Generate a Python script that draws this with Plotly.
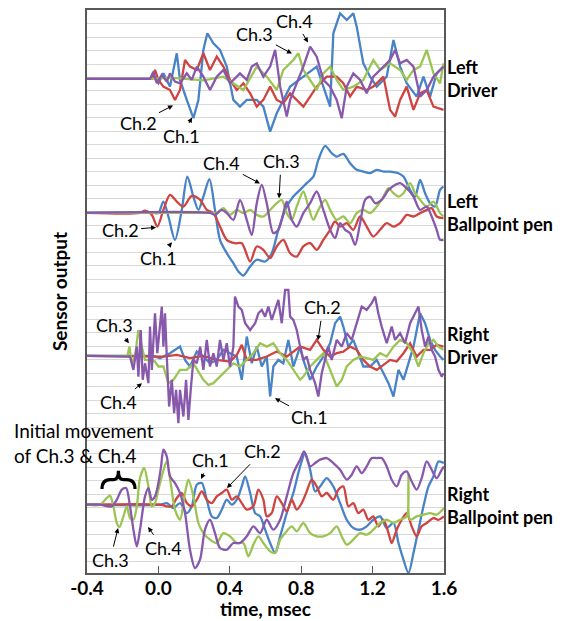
import plotly.graph_objects as go

# ---------------- data (time in msec, amplitude in grid units) ----------------
# Left Driver
LD_CH1_T = [-0.4, -0.047, -0.028, 0.0, 0.028, 0.065, 0.103, 0.121, 0.159, 0.196, 0.224, 0.252, 0.274, 0.308, 0.345, 0.383, 0.420, 0.457, 0.495, 0.551, 0.588, 0.626, 0.663, 0.700, 0.738, 0.812, 0.887, 0.924, 0.962, 0.980, 1.018, 1.055, 1.092, 1.111, 1.148, 1.186, 1.223, 1.279, 1.317, 1.354, 1.391, 1.447, 1.485, 1.522, 1.559, 1.597]
LD_CH1_V = [0, 0, 0.17, -0.32, 0.42, -0.57, 1.91, -0.07, -1.56, -2.92, -1.56, 2.16, 3.40, 2.65, 2.16, 0.92, -1.56, -2.06, -1.56, -1.56, -2.06, -3.92, -2.55, -1.56, -0.57, 0.17, 0.92, -0.57, -2.06, 3.40, 4.88, 4.39, 4.88, 3.89, 1.16, 0.17, -0.57, 0.17, 2.90, 0.92, -0.32, -1.31, 0.17, -1.31, 0.42, 0.92]
LD_CH2_T = [-0.4, -0.037, -0.019, 0.0, 0.028, 0.065, 0.093, 0.121, 0.149, 0.177, 0.215, 0.252, 0.289, 0.327, 0.364, 0.401, 0.439, 0.476, 0.514, 0.551, 0.588, 0.626, 0.663, 0.700, 0.738, 0.775, 0.812, 0.850, 0.887, 0.943, 0.999, 1.036, 1.074, 1.111, 1.167, 1.204, 1.261, 1.298, 1.326, 1.354, 1.391, 1.429, 1.466, 1.503, 1.541, 1.597]
LD_CH2_V = [0, 0, 0.67, -0.07, -0.57, -0.82, -1.56, -0.82, 1.41, 0.92, 0.67, 1.91, 0.67, 1.66, 0.92, -0.07, -0.82, -0.32, -1.07, -2.06, -1.56, -0.57, -1.56, -1.81, -1.07, -1.56, -2.06, -1.31, -0.57, 0.17, 0.17, -0.32, -1.31, -0.57, -0.82, -0.57, 0.17, -2.30, -2.80, -1.56, -0.57, -2.30, -1.07, -0.82, -2.06, -2.30]
LD_CH3_T = [-0.4, -0.047, 0.065, 0.252, 0.364, 0.420, 0.476, 0.551, 0.607, 0.663, 0.700, 0.756, 0.784, 0.812, 0.850, 0.887, 0.924, 0.962, 0.999, 1.036, 1.092, 1.148, 1.204, 1.242, 1.298, 1.354, 1.391, 1.429, 1.466, 1.503, 1.541, 1.578, 1.597]
LD_CH3_V = [0, 0, 0.10, -0.10, 0.17, -0.32, -0.82, 0.92, 0.17, -0.82, 0.67, 1.41, 1.91, 0.67, -0.07, -0.82, 0.42, 0.92, -0.07, -0.82, -0.57, -0.07, 1.41, 0.67, 1.16, 0.67, -0.07, 0.67, 0.92, 2.16, 0.42, -0.32, 1.16]
LD_CH4_T = [-0.4, -0.047, -0.028, -0.009, 0.019, 0.047, 0.065, 0.093, 0.121, 0.159, 0.187, 0.215, 0.252, 0.289, 0.327, 0.364, 0.401, 0.457, 0.495, 0.523, 0.551, 0.588, 0.626, 0.654, 0.682, 0.719, 0.738, 0.775, 0.812, 0.850, 0.887, 0.924, 0.962, 0.999, 1.027, 1.055, 1.092, 1.130, 1.167, 1.204, 1.261, 1.298, 1.326, 1.354, 1.391, 1.429, 1.466, 1.503, 1.541, 1.578, 1.597]
LD_CH4_V = [0, 0, 0.54, -0.32, 0.30, -0.20, 0.42, -0.20, -0.32, 0.42, -0.07, 0.92, 0.17, -0.82, 0.17, 0.67, -0.32, 0.42, -0.07, 0.92, 1.16, 0.17, 0.92, 2.16, -0.57, -2.80, -1.56, -0.32, 0.92, 2.40, 1.66, -0.07, -0.57, -1.56, -2.92, -0.57, 0.42, -0.07, -1.07, 0.17, 0.92, 1.41, 2.16, 1.16, 1.41, 0.92, -1.31, -0.82, 0.17, 0.67, 0.92]

# Left Ballpoint pen
LB_CH1_T = [-0.4, -0.028, 0.0, 0.028, 0.056, 0.093, 0.131, 0.162, 0.196, 0.224, 0.252, 0.286, 0.317, 0.345, 0.383, 0.420, 0.448, 0.476, 0.514, 0.551, 0.598, 0.635, 0.672, 0.719, 0.756, 0.794, 0.831, 0.868, 0.896, 0.934, 0.971, 0.999, 1.036, 1.074, 1.111, 1.148, 1.186, 1.223, 1.261, 1.298, 1.345, 1.373, 1.410, 1.438, 1.466, 1.494, 1.522, 1.550, 1.578, 1.597]
LB_CH1_V = [0, 0, -0.02, 0.84, -0.27, -2.01, 0.22, 2.70, 1.21, 0.22, 1.21, 2.50, 0.22, -2.01, -3.00, -3.74, -4.36, -4.66, -3.99, -3.49, -3.62, -3.00, -1.26, 0.47, 1.21, 1.71, 2.21, 2.70, 3.94, 4.98, 4.44, 4.19, 4.39, 3.69, 3.20, 3.07, 2.95, 3.20, 3.07, 3.07, 2.95, 2.70, 1.71, 1.21, 2.45, 1.46, 0.72, 0.47, 1.71, 1.96]
LB_CH2_T = [-0.4, -0.103, -0.075, -0.037, -0.006, 0.028, 0.065, 0.103, 0.140, 0.187, 0.234, 0.271, 0.308, 0.345, 0.383, 0.429, 0.467, 0.514, 0.551, 0.588, 0.626, 0.663, 0.700, 0.738, 0.775, 0.812, 0.850, 0.887, 0.924, 0.962, 0.990, 1.018, 1.055, 1.092, 1.130, 1.167, 1.204, 1.242, 1.279, 1.317, 1.354, 1.391, 1.429, 1.466, 1.503, 1.531, 1.559, 1.597]
LB_CH2_V = [0, 0, 0.17, -0.15, -1.02, 0.22, 1.34, 0.84, 0.47, 1.26, 0.97, 0.22, -0.02, -1.02, -2.01, -2.26, -2.26, -3.62, -2.50, -2.75, -3.37, -2.50, -2.01, -3.00, -3.25, -2.50, -2.26, -2.75, -2.01, -1.26, -0.64, -1.02, -0.77, -1.26, -0.27, -1.02, -1.76, -1.26, -0.77, -1.02, -0.77, -0.15, -0.27, -0.02, 0.22, 0.35, -0.27, -0.40]
LB_CH3_T = [-0.4, 0.289, 0.327, 0.364, 0.401, 0.439, 0.476, 0.514, 0.551, 0.588, 0.626, 0.663, 0.691, 0.719, 0.747, 0.775, 0.812, 0.840, 0.868, 0.896, 0.934, 0.962, 0.999, 1.036, 1.074, 1.111, 1.148, 1.186, 1.223, 1.261, 1.289, 1.317, 1.345, 1.373, 1.410, 1.438, 1.466, 1.503, 1.541, 1.578, 1.597]
LB_CH3_V = [0, 0, -0.02, 0.35, -0.15, 0.22, -0.02, 0.22, -0.15, -0.27, 0.22, 0.72, 0.97, -0.02, -0.52, 0.47, 1.59, 0.47, -0.52, 0.22, 0.97, 0.22, -0.52, -0.27, -0.77, -0.02, 0.22, -0.02, 0.47, 1.21, 1.83, 1.46, 1.21, 1.46, 2.21, 1.46, 0.97, 0.47, 0.84, -0.02, -0.27]
LB_CH4_T = [-0.4, 0.289, 0.317, 0.355, 0.383, 0.420, 0.457, 0.495, 0.523, 0.551, 0.579, 0.607, 0.644, 0.672, 0.700, 0.719, 0.747, 0.775, 0.812, 0.850, 0.887, 0.924, 0.962, 0.990, 1.018, 1.046, 1.074, 1.102, 1.130, 1.158, 1.186, 1.214, 1.251, 1.289, 1.326, 1.354, 1.391, 1.429, 1.466, 1.503, 1.531, 1.559, 1.578, 1.597]
LB_CH4_V = [0, 0, -0.15, 0.22, -0.02, -0.52, 0.97, -0.52, -1.64, 0.72, 2.08, 0.72, -1.51, -1.26, -0.02, 0.84, -0.52, -1.02, -0.02, 0.72, 1.59, 0.22, -1.26, -1.88, -0.77, -1.26, -1.51, -2.38, -0.77, 0.97, 1.21, 0.72, 0.97, 1.71, 2.08, 2.21, 1.83, 1.21, 0.22, 0.47, -0.27, -1.26, -2.01, -2.01]

# Right Driver
RD_CH1_T = [-0.4, -0.028, 0.009, 0.065, 0.121, 0.149, 0.177, 0.215, 0.252, 0.289, 0.327, 0.364, 0.401, 0.439, 0.467, 0.495, 0.523, 0.551, 0.579, 0.607, 0.626, 0.644, 0.672, 0.700, 0.728, 0.756, 0.794, 0.812, 0.850, 0.887, 0.924, 0.962, 0.990, 1.018, 1.036, 1.064, 1.092, 1.120, 1.148, 1.186, 1.223, 1.261, 1.289, 1.317, 1.345, 1.373, 1.401, 1.429, 1.466, 1.494, 1.522, 1.550, 1.578, 1.597]
RD_CH1_V = [0, 0, -0.17, 0.20, 0.69, -0.30, -0.79, 0.32, -0.05, -0.55, -0.30, 0.45, 0.20, -0.05, -1.78, 1.44, -0.55, 0.69, -0.79, -0.05, -3.02, -0.79, -0.30, -0.55, 1.19, -0.79, 0.69, -0.30, -1.78, -0.79, -0.05, 0.94, 2.43, 2.92, 2.18, 0.69, 1.19, 0.20, -0.79, -0.79, -0.30, -1.29, -2.03, -3.02, -1.04, -1.78, -0.55, 0.69, 3.17, 2.43, 1.19, 0.45, -0.05, -0.30]
RD_CH2_T = [-0.4, -0.028, 0.028, 0.103, 0.177, 0.252, 0.327, 0.401, 0.439, 0.467, 0.495, 0.551, 0.607, 0.663, 0.719, 0.794, 0.850, 0.887, 0.924, 0.962, 0.999, 1.036, 1.074, 1.111, 1.148, 1.186, 1.223, 1.261, 1.298, 1.335, 1.373, 1.410, 1.447, 1.485, 1.522, 1.559, 1.597]
RD_CH2_V = [0, 0, -0.05, 0.07, -0.17, 0.0, -0.30, -0.42, 0.07, 0.82, -0.30, -0.30, -0.05, 0.32, -0.05, 0.69, 0.45, 1.19, 0.45, -0.05, 0.20, 0.32, 0.69, 0.45, -0.30, -0.79, -1.04, -0.67, -0.30, -0.42, 0.20, 0.94, -0.05, 0.45, 0.45, 0.82, 0.69]
RD_CH3_T = [-0.4, -0.174, -0.162, -0.149, -0.131, -0.112, -0.093, -0.075, -0.047, -0.019, 0.0, 0.028, 0.056, 0.084, 0.121, 0.159, 0.196, 0.224, 0.252, 0.280, 0.308, 0.345, 0.383, 0.420, 0.457, 0.495, 0.532, 0.570, 0.607, 0.644, 0.682, 0.719, 0.756, 0.794, 0.812, 0.850, 0.887, 0.924, 0.962, 0.999, 1.027, 1.055, 1.092, 1.130, 1.167, 1.204, 1.242, 1.279, 1.317, 1.354, 1.391, 1.429, 1.457, 1.485, 1.513, 1.541, 1.569, 1.597]
RD_CH3_V = [0, 0, 0.69, -0.55, -0.05, 1.93, 0.69, -0.30, -0.30, -0.42, -0.79, -0.79, -2.03, -1.78, -1.04, -1.04, -0.55, -1.16, -1.78, -2.16, -2.03, -1.54, -1.04, -0.55, -0.79, -0.30, 0.20, 0.94, 0.69, 0.94, 0.20, -0.30, -1.04, -1.78, -1.54, -0.79, -0.30, 0.20, -1.04, -2.28, -1.78, -0.79, -0.30, -0.05, -0.17, -0.30, 0.20, -0.05, 0.69, 1.19, 0.94, 0.20, -0.79, 0.20, 0.94, 1.19, 0.69, 0.45]
RD_CH4_T = [-0.4, -0.168, -0.159, -0.140, -0.121, -0.112, -0.099, -0.088, -0.075, -0.056, -0.047, -0.037, -0.019, -0.006, 0.006, 0.019, 0.028, 0.037, 0.047, 0.060, 0.075, 0.088, 0.099, 0.112, 0.121, 0.140, 0.155, 0.168, 0.181, 0.196, 0.215, 0.234, 0.252, 0.271, 0.289, 0.308, 0.327, 0.345, 0.364, 0.383, 0.401, 0.420, 0.429, 0.448, 0.467, 0.486, 0.514, 0.542, 0.560, 0.579, 0.598, 0.616, 0.635, 0.654, 0.672, 0.691, 0.710, 0.728, 0.738, 0.756, 0.775, 0.794, 0.812, 0.831, 0.850, 0.878, 0.896, 0.915, 0.934, 0.952, 0.971, 0.999, 1.027, 1.055, 1.083, 1.111, 1.139, 1.167, 1.195, 1.214, 1.232, 1.251, 1.279, 1.307, 1.326, 1.354, 1.382, 1.410, 1.438, 1.457, 1.475, 1.494, 1.513, 1.531, 1.550, 1.569, 1.587, 1.597]
RD_CH4_V = [0, 0, -0.05, -1.04, 0.69, -1.54, 1.93, -1.78, -0.55, -2.03, 2.18, -1.04, 3.17, 0.20, 1.69, 3.67, 0.69, 3.17, -0.05, -3.77, -1.78, -4.26, -2.53, -5.01, -2.53, -4.51, -1.78, -4.76, -2.53, -0.30, -0.55, 0.69, -1.04, 1.19, -0.79, 0.20, -0.79, 1.19, -0.30, 0.94, -0.79, 0.69, 4.41, 3.67, 3.42, 2.43, 1.93, 2.43, 3.17, 3.42, 2.92, 3.67, 2.68, 3.42, 4.16, 2.43, 4.91, 4.91, 2.92, 2.68, 1.93, 0.69, -0.30, -0.05, -1.04, -2.03, -3.02, -1.29, -0.30, 0.69, -0.30, 1.19, 0.69, 1.69, 1.19, 2.43, 3.67, 3.42, 3.92, 4.41, 3.17, 2.18, 0.94, 2.18, 1.19, 1.69, 0.94, 2.43, 3.17, 3.67, 1.93, 0.69, 1.44, 0.45, -0.05, -1.04, -1.54, -1.29]

# Right Ballpoint pen
RB_CH1_T = [-0.4, 0.009, 0.047, 0.084, 0.121, 0.159, 0.187, 0.215, 0.243, 0.271, 0.299, 0.327, 0.355, 0.383, 0.411, 0.439, 0.467, 0.486, 0.514, 0.542, 0.570, 0.598, 0.626, 0.654, 0.682, 0.719, 0.756, 0.794, 0.822, 0.850, 0.878, 0.906, 0.943, 0.980, 1.018, 1.055, 1.092, 1.130, 1.167, 1.204, 1.242, 1.279, 1.317, 1.345, 1.373, 1.401, 1.429, 1.457, 1.485, 1.513, 1.541, 1.569, 1.600]
RB_CH1_V = [0, 0, 0.12, -0.25, 0.12, -0.62, -0.12, 1.49, 1.61, 0.37, -0.87, -0.99, -0.37, 0.37, 0.0, 0.37, 1.36, 2.11, 0.87, -0.62, -0.87, -1.86, -2.85, -3.59, -2.35, -0.62, 0.87, 2.85, 3.84, 2.60, 0.99, 1.36, 1.98, 1.36, 0.12, -1.12, -1.73, -1.86, -1.61, -1.12, -0.87, -1.73, -1.36, -2.85, -4.09, -5.08, -3.59, -1.86, -0.12, 1.36, 2.11, 3.22, 3.10]
RB_CH2_T = [-0.4, 0.009, 0.047, 0.075, 0.103, 0.131, 0.159, 0.187, 0.215, 0.243, 0.271, 0.299, 0.327, 0.355, 0.383, 0.411, 0.439, 0.467, 0.495, 0.532, 0.560, 0.588, 0.607, 0.635, 0.663, 0.691, 0.719, 0.747, 0.775, 0.803, 0.831, 0.859, 0.887, 0.915, 0.943, 0.980, 1.008, 1.036, 1.064, 1.092, 1.120, 1.148, 1.176, 1.204, 1.232, 1.261, 1.289, 1.307, 1.335, 1.363, 1.391, 1.419, 1.447, 1.475, 1.503, 1.541, 1.569, 1.600]
RB_CH2_V = [0, 0, -0.12, -0.12, 0.50, 0.87, 0.12, -0.12, 0.37, 0.99, 0.37, 0.12, 0.62, 0.87, 1.12, 0.37, 0.62, 0.12, -0.37, -0.12, 1.12, 0.37, -0.87, -0.62, 0.62, 0.12, -0.50, 0.37, -0.37, 0.12, 0.99, 1.86, 1.36, 0.62, 0.87, 0.37, 1.12, 1.36, -0.12, 0.12, -0.62, -0.37, -1.12, -0.87, -1.61, -1.12, -2.11, -2.85, -1.86, -1.12, -0.62, -1.61, -2.35, -1.61, -1.36, -0.99, -1.12, -0.87]
RB_CH3_T = [-0.4, -0.327, -0.289, -0.271, -0.252, -0.233, -0.218, -0.196, -0.177, -0.159, -0.140, -0.121, -0.103, -0.080, -0.056, -0.037, -0.019, 0.0, 0.024, 0.047, 0.069, 0.093, 0.121, 0.149, 0.168, 0.196, 0.224, 0.252, 0.289, 0.327, 0.364, 0.401, 0.439, 0.476, 0.504, 0.532, 0.560, 0.588, 0.626, 0.654, 0.682, 0.710, 0.747, 0.775, 0.812, 0.850, 0.887, 0.924, 0.962, 0.999, 1.027, 1.055, 1.092, 1.130, 1.167, 1.204, 1.242, 1.279, 1.317, 1.354, 1.391, 1.401, 1.410, 1.447, 1.485, 1.522, 1.559, 1.600]
RB_CH3_V = [0, 0, 0.50, 0.67, -0.12, -1.36, -1.66, -0.87, -0.12, -0.99, -1.12, -0.12, 1.98, 2.73, 1.36, -0.12, 0.12, 1.12, 2.35, 3.22, 1.61, -0.37, -1.12, 0.87, 1.86, 0.62, -1.36, -2.11, -2.60, -2.85, -2.11, -2.35, -2.85, -2.85, -3.84, -2.97, -2.35, -2.85, -3.47, -3.59, -2.60, -2.11, -1.61, -1.98, -1.36, -2.11, -2.35, -2.35, -2.11, -1.61, -2.35, -2.97, -2.60, -2.11, -2.23, -1.86, -1.36, -1.12, -1.36, -1.12, -0.87, 2.23, -1.12, -0.87, -0.74, -0.62, -0.74, -0.25]
RB_CH4_T = [-0.4, -0.327, -0.262, -0.233, -0.205, -0.181, -0.159, -0.140, -0.121, -0.103, -0.075, -0.056, -0.037, -0.019, 0.0, 0.015, 0.028, 0.047, 0.065, 0.093, 0.121, 0.149, 0.177, 0.205, 0.233, 0.261, 0.289, 0.317, 0.345, 0.383, 0.420, 0.457, 0.495, 0.532, 0.570, 0.607, 0.644, 0.682, 0.719, 0.756, 0.794, 0.816, 0.850, 0.878, 0.906, 0.943, 0.980, 1.018, 1.055, 1.083, 1.111, 1.139, 1.167, 1.195, 1.223, 1.251, 1.279, 1.307, 1.335, 1.363, 1.391, 1.419, 1.447, 1.475, 1.503, 1.531, 1.559, 1.587, 1.600]
RB_CH4_V = [0, 0, -0.12, 0.37, 1.12, 1.24, -0.12, -1.86, -3.10, -1.86, 0.62, 1.24, 0.37, 0.62, 1.61, 2.85, 4.09, 3.59, 2.11, 1.61, 0.87, -0.62, -3.35, -4.71, -4.09, -1.86, -1.12, -2.11, -3.22, -3.35, -2.85, -2.85, -2.35, -1.61, -2.11, -1.12, -1.86, -1.12, 0.62, 2.35, 3.35, 3.97, 2.85, 3.10, 3.35, 3.47, 3.10, 2.60, 1.86, 2.23, 2.85, 2.35, 2.85, 3.47, 3.47, 3.47, 2.85, 1.86, 1.36, 2.23, 2.48, 1.73, 1.12, 1.98, 3.22, 2.60, 1.98, 2.60, 2.85]

X_TICKS = [-0.4, 0.0, 0.4, 0.8, 1.2, 1.6]
X_TICK_LABELS = ["-0.4", "0.0", "0.4", "0.8", "1.2", "1.6"]
PANEL_NAMES = ["Left<br>Driver", "Left<br>Ballpoint pen", "Right<br>Driver", "Right<br>Ballpoint pen"]
PANEL_OFFSETS = [36.75, 26.79, 16.15, 5.08]   # vertical baseline of each stacked panel
LABEL_Y = [36.75, 26.79, 16.9, 5.0]
COLORS = ["#4783C6", "#CF4440", "#9BC453", "#8758AC"]

panels = [
    [(LD_CH1_T, LD_CH1_V), (LD_CH2_T, LD_CH2_V), (LD_CH3_T, LD_CH3_V), (LD_CH4_T, LD_CH4_V)],
    [(LB_CH1_T, LB_CH1_V), (LB_CH2_T, LB_CH2_V), (LB_CH3_T, LB_CH3_V), (LB_CH4_T, LB_CH4_V)],
    [(RD_CH1_T, RD_CH1_V), (RD_CH2_T, RD_CH2_V), (RD_CH3_T, RD_CH3_V), (RD_CH4_T, RD_CH4_V)],
    [(RB_CH1_T, RB_CH1_V), (RB_CH2_T, RB_CH2_V), (RB_CH3_T, RB_CH3_V), (RB_CH4_T, RB_CH4_V)],
]
SMOOTH = [False, True, False, True]

FONT = "Lato"
Y_MAX = 41.88

fig = go.Figure()
for p, series in enumerate(panels):
    for c, (t, v) in enumerate(series):
        fig.add_trace(go.Scatter(
            x=t, y=[PANEL_OFFSETS[p] + a for a in v], mode="lines",
            line=dict(color=COLORS[c], width=2.3,
                      shape="spline" if SMOOTH[p] else "linear",
                      smoothing=0.8 if SMOOTH[p] else None),
            showlegend=False, hoverinfo="skip"))

# panel names on the right
for name, ly in zip(PANEL_NAMES, LABEL_Y):
    fig.add_annotation(x=1, xref="paper", y=ly, yref="y", text=name, showarrow=False,
                       xanchor="left", yanchor="middle", xshift=1, align="left",
                       font=dict(family=FONT, size=18, color="black", weight="bold"))

# arrows "Ch.n": (tip x, tip y, dx, dy)
ARROWS = [
    ("Ch.4", 0.838, 39.46, -13, -22), ("Ch.3", 0.748, 38.64, -37, -20),
    ("Ch.2", 0.082, 34.78, -35, 18), ("Ch.1", 0.188, 33.89, -10, 19),
    ("Ch.4", 0.569, 28.98, -38, -20), ("Ch.3", 0.676, 27.87, 2, -37),
    ("Ch.2", -0.013, 25.71, -36, 3), ("Ch.1", 0.076, 24.60, -13, 16),
    ("Ch.3", -0.165, 17.09, -14, -18), ("Ch.4", -0.092, 14.12, -23, 19),
    ("Ch.2", 0.894, 17.31, 5, -33), ("Ch.1", 0.653, 13.00, 35, 19),
    ("Ch.1", 0.239, 6.99, 9, -19), ("Ch.2", 0.384, 6.32, 36, -37),
    ("Ch.3", -0.226, 3.34, -8, 32), ("Ch.4", -0.058, 3.42, 15, 21),
]
for txt, x, y, dx, dy in ARROWS:
    fig.add_annotation(x=x, y=y, xref="x", yref="y", text=txt, showarrow=True,
                       ax=dx, ay=dy, arrowhead=2, arrowsize=1, arrowwidth=1,
                       arrowcolor="black", standoff=0, startstandoff=1,
                       font=dict(family=FONT, size=18, color="black"))

# "Initial movement of Ch.3 & Ch.4" with brace
fig.add_annotation(x=0, xref="paper", xshift=-75, y=7.75, yref="y", yanchor="bottom",
                   xanchor="left", align="left", showarrow=False,
                   text="Initial movement<br>of Ch.3 &amp; Ch.4",
                   font=dict(family=FONT, size=19, color="black"))
fig.add_shape(type="path", xref="x", yref="y",
              path="M -0.316,6.25 Q -0.316,6.95 -0.27,6.95 L -0.250,6.95 Q -0.224,6.95 -0.224,7.6 "
                   "Q -0.224,6.95 -0.198,6.95 L -0.178,6.95 Q -0.131,6.95 -0.131,6.25",
              line=dict(color="black", width=3.2))

# x-axis title placed as text below the tick labels
fig.add_annotation(x=0.5, xref="paper", y=0, yref="paper", yshift=-35, yanchor="middle",
                   text="time, msec", showarrow=False,
                   font=dict(family=FONT, size=19, color="black", weight="bold"))

fig.update_xaxes(range=[-0.4, 1.6], tickvals=X_TICKS, ticktext=X_TICK_LABELS,
                 ticks="inside", ticklen=7, tickcolor="#595959", tickwidth=1,
                 showgrid=False, zeroline=False, showline=True, linecolor="#595959",
                 linewidth=1.5, mirror=True, automargin=False, ticklabelstandoff=-3,
                 tickfont=dict(family=FONT, size=19, color="black", weight="bold"))
fig.update_yaxes(range=[0, Y_MAX], tick0=0.86, dtick=1, showticklabels=False, ticks="",
                 showgrid=True, gridcolor="#D9D9D9", gridwidth=1, zeroline=False,
                 showline=True, linecolor="#595959", linewidth=1.5, mirror=True,
                 automargin=False,
                 title=dict(text="Sensor output", standoff=13,
                            font=dict(family=FONT, size=19, color="black", weight="bold")))
# page body adds an 8px offset; figure is sized so the plot lands where the reference has it
fig.update_layout(width=558, height=613, margin=dict(l=79, r=122, t=2, b=48),
                  paper_bgcolor="white", plot_bgcolor="white")
fig.write_html("out.html")
